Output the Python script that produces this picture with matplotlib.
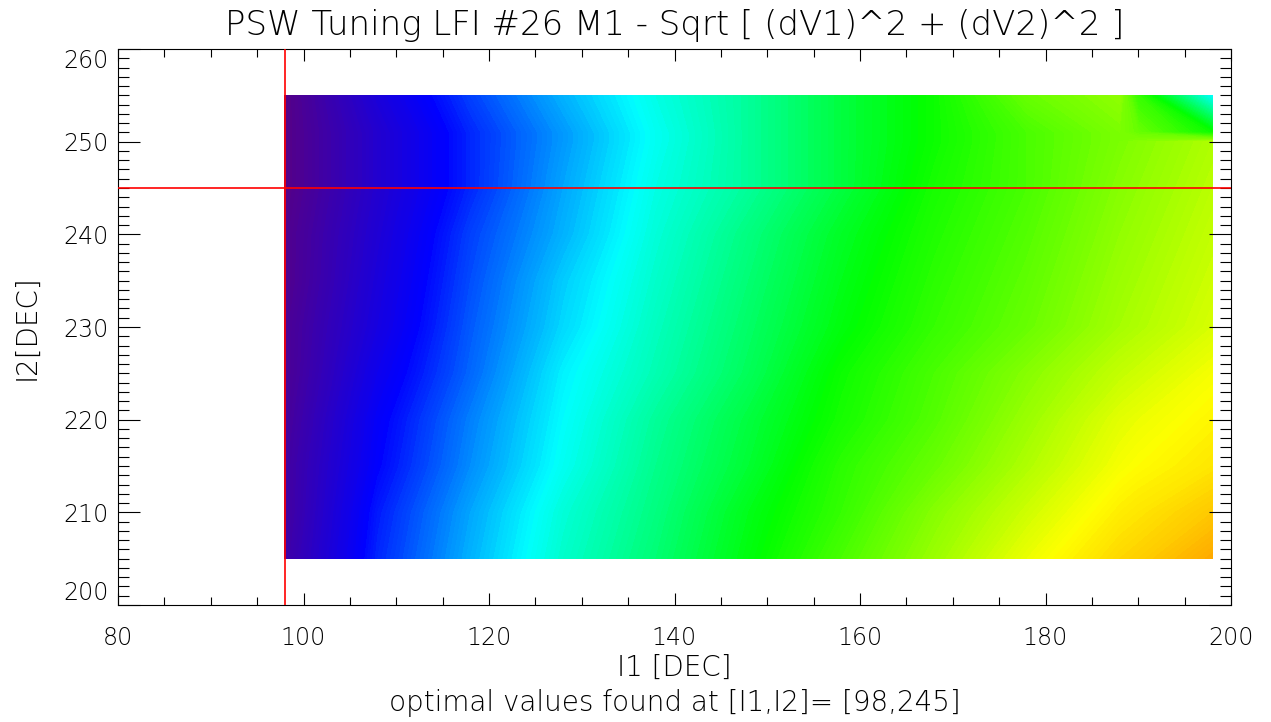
import numpy as np
import matplotlib
matplotlib.use("Agg")
import matplotlib.pyplot as plt
from matplotlib.colors import LinearSegmentedColormap

# grid of the tuning scan
i1_values = [98, 108, 118, 128, 138, 148, 158, 168, 178, 188, 190, 198]
i2_values = [205, 210, 215, 220, 225, 230, 235, 240, 245, 250, 251, 255]

# sqrt(dV1^2 + dV2^2), normalised to the colour table (0 = best)
row_205 = [0.05, 0.23, 0.34, 0.44, 0.51, 0.59, 0.67, 0.75, 0.83, 0.90, 0.91, 0.96]
row_210 = [0.04, 0.22, 0.33, 0.43, 0.50, 0.58, 0.65, 0.73, 0.80, 0.87, 0.88, 0.92]
row_215 = [0.04, 0.20, 0.31, 0.41, 0.49, 0.56, 0.64, 0.70, 0.77, 0.84, 0.85, 0.88]
row_220 = [0.03, 0.19, 0.30, 0.40, 0.48, 0.55, 0.62, 0.68, 0.75, 0.82, 0.83, 0.86]
row_225 = [0.02, 0.17, 0.28, 0.39, 0.46, 0.53, 0.61, 0.67, 0.73, 0.79, 0.80, 0.84]
row_230 = [0.02, 0.15, 0.27, 0.37, 0.45, 0.52, 0.59, 0.65, 0.70, 0.76, 0.77, 0.81]
row_235 = [0.01, 0.14, 0.26, 0.36, 0.44, 0.51, 0.58, 0.64, 0.69, 0.75, 0.76, 0.80]
row_240 = [0.01, 0.13, 0.25, 0.34, 0.43, 0.50, 0.57, 0.63, 0.68, 0.74, 0.75, 0.79]
row_245 = [0.00, 0.12, 0.23, 0.33, 0.42, 0.48, 0.55, 0.62, 0.67, 0.73, 0.74, 0.78]
row_250 = [0.00, 0.12, 0.23, 0.32, 0.41, 0.48, 0.55, 0.61, 0.67, 0.72, 0.73, 0.77]
row_251 = [0.00, 0.12, 0.23, 0.32, 0.41, 0.48, 0.55, 0.61, 0.67, 0.72, 0.70, 0.61]
row_255 = [0.00, 0.14, 0.25, 0.34, 0.42, 0.48, 0.55, 0.61, 0.70, 0.74, 0.65, 0.40]

z = np.array([row_205, row_210, row_215, row_220, row_225, row_230,
              row_235, row_240, row_245, row_250, row_251, row_255])

best_i1, best_i2 = 98, 245

plt.rcParams['font.family'] = 'DejaVu Sans'

# IDL-like rainbow colour table
cmap = LinearSegmentedColormap.from_list('idl_rainbow', [
    (0.0, (0.33, 0.0, 0.53)),
    (0.2, (0.0, 0.0, 1.0)),
    (0.4, (0.0, 1.0, 1.0)),
    (0.6, (0.0, 1.0, 0.0)),
    (0.85, (1.0, 1.0, 0.0)),
    (1.0, (1.0, 0.55, 0.0)),
])

fig = plt.figure(figsize=(12.71, 7.22), dpi=100)
ax = fig.add_axes([118 / 1271, 1 - 605 / 722, (1231 - 118) / 1271, (605 - 49) / 722])

ax.contourf(i1_values, i2_values, z, levels=np.linspace(0, 1, 201),
            cmap=cmap, vmin=0, vmax=1, zorder=1)

ax.axvline(best_i1, color='red', lw=1.2, zorder=3)
ax.axhline(best_i2, color='red', lw=1.2, zorder=3)

ax.set_xlim(80, 200)
ax.set_ylim(200, 260)
ax.set_xticks(np.arange(80, 201, 20))
ax.set_xticks(np.arange(80, 201, 5), minor=True)
ax.set_yticks(np.arange(200, 261, 10))
ax.set_yticks(np.arange(200, 261, 1), minor=True)

for s in ax.spines.values():
    s.set_linewidth(0.8)

ax.tick_params(axis='both', which='both', direction='in', top=True, right=True,
               width=0.8, labelsize=17, labelcolor='black')
ax.tick_params(axis='x', which='major', length=8.5, pad=15)
ax.tick_params(axis='x', which='minor', length=5.5)
ax.tick_params(axis='y', which='major', length=16, pad=7)
ax.tick_params(axis='y', which='minor', length=8)

for lab in ax.get_xticklabels() + ax.get_yticklabels():
    lab.set_fontweight('light')

yticks = ax.yaxis.get_major_ticks()
yticks[0].label1.set_va('bottom')
yticks[-1].label1.set_va('top')

ax.set_title('PSW Tuning LFI #26 M1 - Sqrt [ (dV1)^2 + (dV2)^2 ]',
             fontsize=24.5, fontweight='light', color='black', pad=10)
ax.set_xlabel('I1 [DEC]', fontsize=20, fontweight='light', color='black', labelpad=3)
ax.set_ylabel('I2[DEC]', fontsize=20, fontweight='light', color='black', labelpad=16)
fig.text(0.5307, 1 - 703 / 722, 'optimal values found at [I1,I2]= [98,245]',
         ha='center', va='center', fontsize=20, fontweight='light', color='black')

fig.savefig('out.png', dpi=100)
